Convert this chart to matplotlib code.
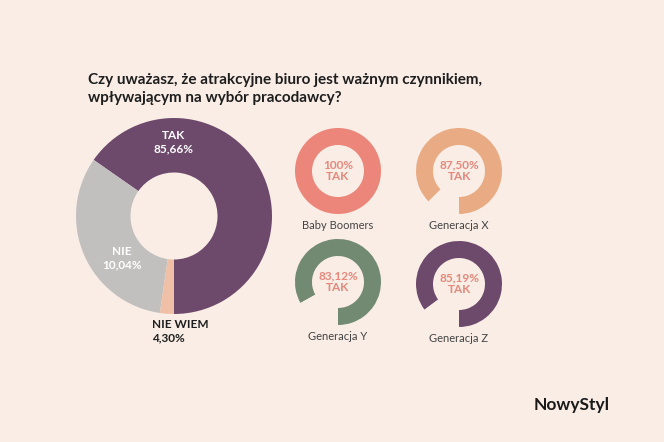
import matplotlib
matplotlib.use('Agg')
import matplotlib.pyplot as plt

W, H = 664, 442
BG = '#f9ede6'

# main donut: labelled values and drawn arc shares (as seen in the picture)
main_labels = ['TAK', 'NIE', 'NIE WIEM']
main_values = ['85,66%', '10,04%', '4,30%']
main_arcs = [65.3, 32.4, 2.3]
main_colors = ['#6d4a6c', '#c2c0bf', '#efc0a6']

gen_names = ['Baby Boomers', 'Generacja X', 'Generacja Y', 'Generacja Z']
gen_values = [100.0, 87.50, 83.12, 85.19]
gen_text = ['100%', '87,50%', '83,12%', '85,19%']
gen_colors = ['#ec867a', '#e9ab84', '#728a72', '#6d4a6c']

fig = plt.figure(figsize=(W / 100, H / 100), dpi=100)
fig.patch.set_facecolor(BG)


def px_axes(cx, cy, r):
    a = fig.add_axes([(cx - r) / W, 1 - (cy + r) / H, 2 * r / W, 2 * r / H])
    return a


def finish(a):
    a.set_xlim(-1, 1)
    a.set_ylim(-1, 1)
    a.set_aspect('equal')
    a.axis('off')


fig.text(88 / W, 1 - 89 / H, 'Czy uważasz, że atrakcyjne biuro jest ważnym czynnikiem,\nwpływającym na wybór pracodawcy?',
         fontsize=11, fontweight='bold', color='#1e1e1e', va='center', ha='left',
         family='Lato', linespacing=1.45)

ax = px_axes(174, 216, 98)
ax.pie(main_arcs, colors=main_colors, startangle=270, counterclock=True,
       wedgeprops=dict(width=54.5 / 98))
finish(ax)
fig.text(174 / W, 1 - 142 / H, f'{main_labels[0]}\n{main_values[0]}', color='white',
         fontsize=8.5, fontweight='bold', ha='center', va='center', family='Lato')
fig.text(122 / W, 1 - 258 / H, f'{main_labels[1]}\n{main_values[1]}', color='white',
         fontsize=8.5, fontweight='bold', ha='center', va='center', family='Lato')
fig.text(152 / W, 1 - 331 / H, f'{main_labels[2]}\n{main_values[2]}', color='#1e1e1e',
         fontsize=8.5, fontweight='bold', ha='left', va='center', family='Lato')

centers = [(338, 171), (459, 171), (338, 282), (459, 284)]
for (cx, cy), name, v, t, c in zip(centers, gen_names, gen_values, gen_text, gen_colors):
    a = px_axes(cx, cy, 43)
    vals = [v, 100 - v] if v < 100 else [v]
    cols = [c, BG] if v < 100 else [c]
    a.pie(vals, colors=cols, startangle=270, counterclock=True,
          wedgeprops=dict(width=17 / 43))
    finish(a)
    fig.text(cx / W, 1 - cy / H, f'{t}\nTAK', color='#e8877a', fontsize=8.5,
             fontweight='bold', ha='center', va='center', family='Lato', linespacing=1.1)
    fig.text(cx / W, 1 - (cy + 55) / H, name, color='#444444', fontsize=8,
             ha='center', va='center', family='Lato')

fig.text(610 / W, 1 - 405 / H, 'NowyStyl', fontsize=12.5, fontweight='bold',
         color='#1a1a1a', ha='right', va='center', family='Lato')

fig.savefig('out.png', dpi=100, facecolor=BG)
